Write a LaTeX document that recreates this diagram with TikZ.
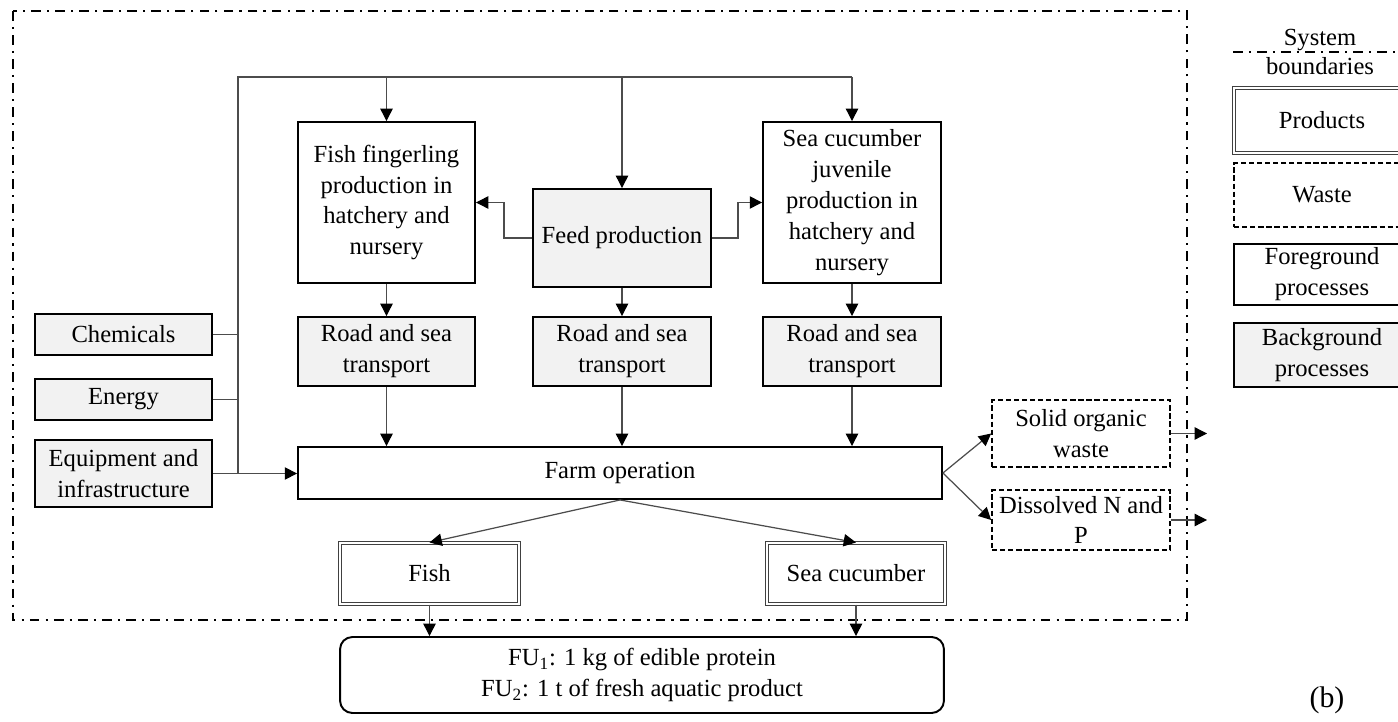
\documentclass[tikz,border=0pt]{standalone}
\usepackage{fontspec}
\setmainfont{Liberation Serif}
\usetikzlibrary{arrows.meta}

\begin{document}
\begin{tikzpicture}[x=0.02cm, y=-0.02cm, font=\fontsize{14}{17.6}\selectfont,
    proc/.style={draw, line width=1.1pt, align=center, inner sep=1pt},
    bgproc/.style={proc, fill=gray!10},
    prod/.style={draw=black!75, double, double distance=1.3pt, line width=0.6pt, align=center, inner sep=1pt},
    waste/.style={draw, line width=1pt, dash pattern=on 3pt off 1.6pt, align=center, inner sep=1pt},
    link/.style={draw=black!70, line width=0.7pt},
    arr/.style={link, -{Triangle[length=7pt, width=7pt, color=black]}},
    bound/.style={line width=1.2pt, dash pattern=on 5.5pt off 3.5pt on 1.2pt off 3.5pt}]
    \useasboundingbox (0,0) rectangle (1398,722);
    \draw [bound] (13,11) rectangle (1187,620);

    \node [proc, minimum width=3.54cm, minimum height=3.22cm] (ffp) at (386.5,202.5)
        {Fish fingerling\\production in\\hatchery and\\nursery};
    \node [bgproc, minimum width=3.56cm, minimum height=1.96cm] (feed) at (622,238) {Feed production};
    \node [proc, minimum width=3.56cm, minimum height=3.22cm] (scj) at (852,202.5)
        {Sea cucumber\\juvenile\\production in\\hatchery and\\nursery};
    \node [bgproc, minimum width=3.54cm, minimum height=1.38cm] (road1) at (386.5,351.5) {Road and sea\\transport};
    \node [bgproc, minimum width=3.56cm, minimum height=1.38cm] (road2) at (622,351.5) {Road and sea\\transport};
    \node [bgproc, minimum width=3.56cm, minimum height=1.38cm] (road3) at (852,351.5) {Road and sea\\transport};
    \node [proc, minimum width=12.88cm, minimum height=1.04cm] (farm) at (620,473) {Farm operation};
    \node [bgproc, minimum width=3.54cm, minimum height=0.82cm] (chem) at (123.5,334.5) {Chemicals};
    \node [bgproc, minimum width=3.54cm, minimum height=0.82cm] (energy) at (123.5,399.5) {Energy};
    \node [bgproc, minimum width=3.54cm, minimum height=1.34cm] (equip) at (123.5,473.5) {Equipment and\\infrastructure};
    \node [waste, minimum width=3.56cm, minimum height=1.34cm] (solid) at (1081,433.5) {Solid organic\\waste};
    \node [waste, minimum width=3.56cm, minimum height=1.2cm] (dissolved) at (1081,520) {Dissolved N and\\P};
    \node [prod, minimum width=3.58cm, minimum height=1.22cm] (fish) at (429.5,573.5) {Fish};
    \node [prod, minimum width=3.56cm, minimum height=1.22cm] (seacuc) at (856,573.5) {Sea cucumber};
    \node [proc, rounded corners=7pt, minimum width=12.08cm, minimum height=1.52cm] (fu) at (642,675)
        {FU\textsubscript{1}: 1 kg of edible protein\\FU\textsubscript{2}: 1 t of fresh aquatic product};

    \coordinate (tl) at (238,77);
    \coordinate (solidout) at (1207,433.5);
    \coordinate (dissolvedout) at (1207,520);
    \draw [link] (tl |- equip.east) -- (tl) -- (tl -| scj.north);
    \draw [link] (chem.east) -- (chem.east -| tl);
    \draw [link] (energy.east) -- (energy.east -| tl);
    \draw [arr] (equip.east) -- (equip.east -| farm.west);
    \draw [arr] (tl -| ffp.north) -- (ffp.north);
    \draw [arr] (tl -| feed.north) -- (feed.north);
    \draw [arr] (tl -| scj.north) -- (scj.north);
    \draw [arr] (feed.west) -- ++(-28,0) |- (ffp.east);
    \draw [arr] (feed.east) -- ++(26,0) |- (scj.west);
    \draw [arr] (ffp) -- (road1);
    \draw [arr] (feed) -- (road2);
    \draw [arr] (scj) -- (road3);
    \draw [arr] (road1) -- (road1 |- farm.north);
    \draw [arr] (road2) -- (road2 |- farm.north);
    \draw [arr] (road3) -- (road3 |- farm.north);
    \draw [arr] (farm.east) -- (solid.west);
    \draw [arr] (farm.east) -- (dissolved.west);
    \draw [arr] (solid) -- (solidout);
    \draw [arr] (dissolved) -- (dissolvedout);
    \draw [arr] (farm.south) -- (fish.north);
    \draw [arr] (farm.south) -- (seacuc.north);
    \draw [arr] (fish) -- (fish |- fu.north);
    \draw [arr] (seacuc) -- (seacuc |- fu.north);

    \node (legsys) at (1320,40) {System};
    \draw [bound] (1233,52) -- (1410,52);
    \node (legbound) at (1320,66) {boundaries};
    \node [prod, minimum width=3.52cm, minimum height=1.3cm] (legprod) at (1322,120.5) {Products};
    \node [waste, minimum width=3.52cm, minimum height=1.28cm] (legwaste) at (1322,195) {Waste};
    \node [proc, minimum width=3.52cm, minimum height=1.22cm] (legfg) at (1322,274.5) {Foreground\\processes};
    \node [bgproc, minimum width=3.52cm, minimum height=1.28cm] (legbg) at (1322,355) {Background\\processes};
    \node [font=\fontsize{17}{20}\selectfont] (label) at (1327,700) {(b)};
\end{tikzpicture}
\end{document}
